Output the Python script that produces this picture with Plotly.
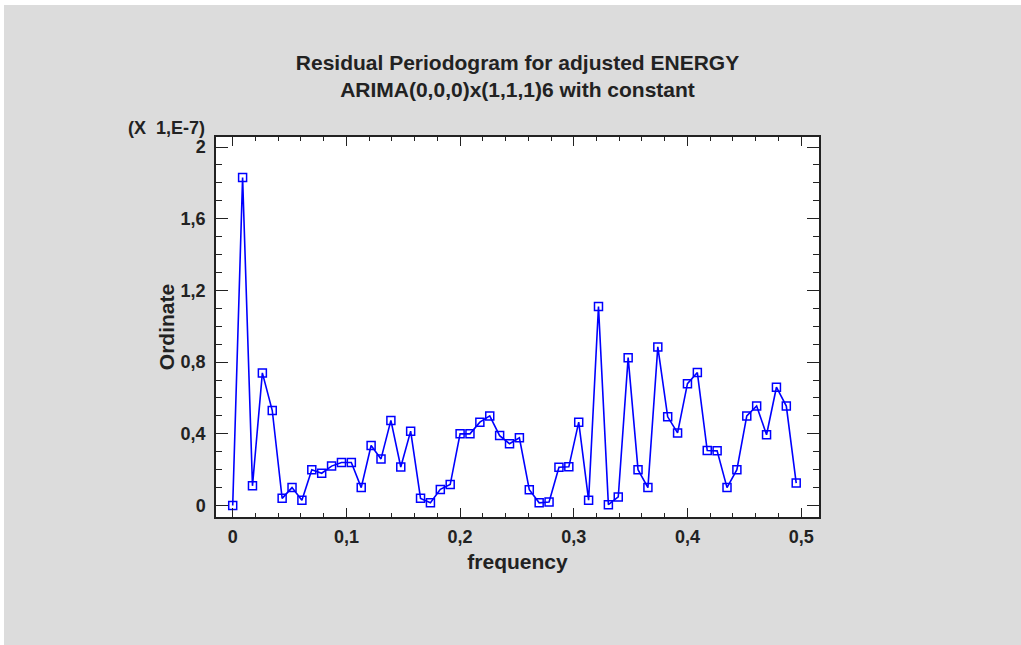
import plotly.graph_objects as go

# Periodogram ordinates (units of 1E-7), frequencies k/115, k = 0..57
n_obs = 115
ordinate = [
    0.00, 1.83, 0.11, 0.74, 0.53, 0.04, 0.10, 0.03, 0.20, 0.18,
    0.22, 0.24, 0.24, 0.10, 0.335, 0.26, 0.475, 0.215, 0.415, 0.04,
    0.015, 0.09, 0.117, 0.40, 0.40, 0.465, 0.50, 0.39, 0.345, 0.378,
    0.088, 0.015, 0.02, 0.214, 0.216, 0.465, 0.03, 1.11, 0.005, 0.048,
    0.825, 0.20, 0.10, 0.885, 0.495, 0.405, 0.68, 0.742, 0.307, 0.305,
    0.10, 0.20, 0.50, 0.555, 0.395, 0.66, 0.555, 0.125,
]
frequency = [k / n_obs for k in range(len(ordinate))]

x_tickvals = [0, 0.1, 0.2, 0.3, 0.4, 0.5]
x_ticktext = ["0", "0,1", "0,2", "0,3", "0,4", "0,5"]
y_tickvals = [0, 0.4, 0.8, 1.2, 1.6, 2.0]
y_ticktext = ["0", "0,4", "0,8", "1,2", "1,6", "2"]

blue = "#0000ff"
ink = "#222222"
font_family = "Liberation Sans, Arial, sans-serif"

fig = go.Figure()
fig.add_trace(go.Scatter(
    x=frequency, y=ordinate, mode="lines+markers",
    line=dict(color=blue, width=1.6),
    marker=dict(symbol="square-open", size=8, color=blue, line=dict(width=1.5, color=blue)),
    showlegend=False, hoverinfo="x+y",
))

axis_common = dict(
    showline=True, linecolor=ink, linewidth=1.5, mirror="ticks",
    ticks="inside", tickcolor=ink, showgrid=False, zeroline=False,
    tickfont=dict(family=font_family, size=18, color=ink, weight="bold"),
)

fig.update_xaxes(
    range=[-0.0147, 0.5157], tickvals=x_tickvals, ticktext=x_ticktext,
    ticklen=9, tickwidth=1.3, ticklabelstandoff=3,
    minor=dict(dtick=0.02, tick0=0, ticks="inside", ticklen=4, tickcolor=ink, tickwidth=1),
    title=dict(text="frequency", font=dict(family=font_family, size=21, color=ink, weight="bold"), standoff=8),
    **axis_common,
)
fig.update_yaxes(
    range=[-0.064, 2.056], tickvals=y_tickvals, ticktext=y_ticktext,
    ticklen=12, tickwidth=1.3, ticklabelstandoff=5,
    minor=dict(dtick=0.1, tick0=0, ticks="inside", ticklen=6, tickcolor=ink, tickwidth=1),
    title=dict(text="Ordinate", font=dict(family=font_family, size=21, color=ink, weight="bold"), standoff=0),
    **axis_common,
)

fig.update_layout(
    width=1021, height=645,
    margin=dict(l=216, r=202, t=137, b=128),
    paper_bgcolor="#dcdcdc", plot_bgcolor="white",
    title=dict(
        text="Residual Periodogram for adjusted ENERGY<br>ARIMA(0,0,0)x(1,1,1)6 with constant",
        x=(517.5 / 1021), xanchor="center", y=1 - 70 / 645, yanchor="top",
        font=dict(family=font_family, size=21, color=ink, weight="bold"),
    ),
    annotations=[dict(
        text="(X\u00a0\u00a01,E-7)", xref="paper", yref="paper",
        x=(207 - 216) / 603, y=(517 - 128) / 380, xanchor="right", yanchor="middle",
        showarrow=False, font=dict(family=font_family, size=18, color=ink, weight="bold"),
    )],
    shapes=[
        dict(type="rect", xref="paper", yref="paper", x0=-0.36, x1=1.34,
             y0=(517 - 5) / 380, y1=1.37, fillcolor="white", line=dict(width=0), layer="above"),
        dict(type="rect", xref="paper", yref="paper", x0=-0.36, x1=(4 - 216) / 603,
             y0=-0.34, y1=1.37, fillcolor="white", line=dict(width=0), layer="above"),
    ],
)

fig.write_html(
    "out.html",
    config={"displayModeBar": False},
    post_script="document.body.style.margin='0';document.body.style.overflow='hidden';",
)
